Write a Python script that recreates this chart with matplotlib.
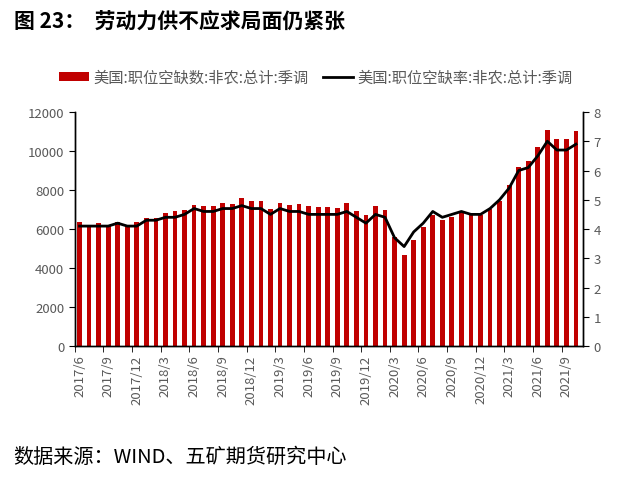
import matplotlib
matplotlib.use('Agg')
import matplotlib.pyplot as plt
import numpy as np

plt.rcParams['font.family'] = ['Noto Sans CJK SC', 'DejaVu Sans']

# monthly, 2017/6 - 2021/10
months = []
for y in range(2017, 2022):
    for m in range(1, 13):
        if (y == 2017 and m < 6) or (y == 2021 and m > 10):
            continue
        months.append(f'{y}/{m}')

# job openings (thousands)
openings = [6340, 6150, 6290, 6150, 6380, 6220, 6340,
            6590, 6590, 6840, 6910, 6970, 7240, 7200, 7200, 7320, 7290, 7570, 7420,
            7450, 7030, 7320, 7230, 7280, 7160, 7110, 7110, 7080, 7320, 6900, 6720,
            7160, 6990, 5600, 4650, 5420, 6100, 6720, 6460, 6600, 6800, 6720, 6720,
            7030, 7420, 8270, 9200, 9490, 10190, 11090, 10600, 10600, 11010]

# job openings rate (%)
rate = [4.1, 4.1, 4.1, 4.1, 4.2, 4.1, 4.1,
        4.3, 4.3, 4.4, 4.4, 4.5, 4.7, 4.6, 4.6, 4.7, 4.7, 4.8, 4.7,
        4.7, 4.5, 4.7, 4.6, 4.6, 4.5, 4.5, 4.5, 4.5, 4.6, 4.4, 4.2,
        4.5, 4.4, 3.7, 3.4, 3.9, 4.2, 4.6, 4.4, 4.5, 4.6, 4.5, 4.5,
        4.7, 5.0, 5.4, 6.0, 6.1, 6.5, 7.0, 6.7, 6.7, 6.9]

label_bar = '美国:职位空缺数:非农:总计:季调'
label_line = '美国:职位空缺率:非农:总计:季调'
gray = '#595959'

fig = plt.figure(figsize=(6.23, 4.85), dpi=100)
ax = fig.add_axes([0.120, 0.2845, 0.816, 0.4825])
ax2 = ax.twinx()

x = np.arange(len(months))
bars = ax.bar(x, openings, width=0.5, color='#C00000', zorder=2)
line, = ax2.plot(x, rate, color='black', lw=2, zorder=3)

ax.set_ylim(0, 12000)
ax.set_yticks(range(0, 12001, 2000))
ax2.set_ylim(0, 8)
ax2.set_yticks(range(0, 9))
ax.set_xlim(-0.45, 52.75)

# labels every 3 months, ticks between categories
ax.set_xticks(x[::3])
ax.set_xticklabels(months[::3], rotation=90)
ax.set_xticks(np.arange(-0.5, 53, 3), minor=True)
ax.tick_params(axis='x', which='major', length=0, pad=6)
ax.tick_params(axis='x', which='minor', length=4, color='black')

for a in (ax, ax2):
    a.spines['top'].set_visible(False)
    for s in ('left', 'right', 'bottom'):
        a.spines[s].set_color('black')
        a.spines[s].set_linewidth(1)
    a.tick_params(axis='y', length=4, colors=gray, labelsize=9.5)
    a.tick_params(axis='y', color='black')
ax.tick_params(axis='x', labelsize=9.5, labelcolor=gray)

fig.legend([bars, line], [label_bar, label_line], loc='center', bbox_to_anchor=(0.507, 0.838),
           ncol=2, frameon=False, fontsize=11, labelcolor=gray, handlelength=2.0,
           handleheight=0.5, handletextpad=0.3, columnspacing=0.9)

fig.text(0.022, 0.955, '图 23：  劳动力供不应求局面仍紧张', fontsize=15,
         fontweight='bold', va='center', ha='left')
fig.text(0.022, 0.056, '数据来源：WIND、五矿期货研究中心', fontsize=14.5,
         va='center', ha='left')

fig.savefig('out.png', dpi=100)
